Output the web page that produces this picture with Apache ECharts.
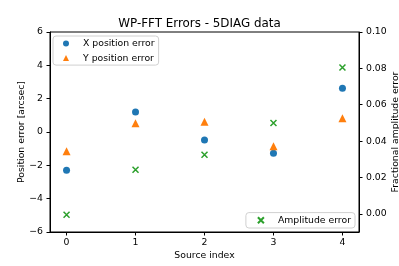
<!DOCTYPE html>
<html><head><meta charset="utf-8">
<script src="https://cdn.jsdelivr.net/npm/echarts@6/dist/echarts.min.js"></script>
<style>html,body{margin:0;padding:0;background:#fff}#c{width:399px;height:266px}</style>
</head><body><div id="c"></div>
<script>
const sourceIndex = [0, 1, 2, 3, 4];
const xPosError = [-2.3, 1.2, -0.48, -1.28, 2.62];
const yPosError = [-1.16, 0.52, 0.62, -0.86, 0.82];
const ampError = [-0.0005, 0.0242, 0.0325, 0.050, 0.0805];
const leftTicks = [-6, -4, -2, 0, 2, 4, 6];
const rightTicks = [0, 0.02, 0.04, 0.06, 0.08, 0.10];
const xTicks = [0, 1, 2, 3, 4];

const font = 'DejaVu Sans';
const fs = 9.3;
const chart = echarts.init(document.getElementById('c'));
const pair = (arr) => sourceIndex.map((s, i) => [s, arr[i]]);
const lineStyle = {show: true, onZero: false, lineStyle: {color: '#000', width: 1}};
const nameStyle = {fontFamily: font, fontSize: fs, color: '#000'};
const legendText = {fontFamily: font, fontSize: fs, color: '#000', lineHeight: 11, padding: [0, 0, 0, 9]};
chart.setOption({
  animation: false,
  title: {text: 'WP-FFT Errors - 5DIAG data', left: 'center', top: 13,
    textStyle: {fontFamily: font, fontSize: 11.9, fontWeight: 'normal', color: '#000'}},
  grid: {left: 50, right: 40, top: 32, bottom: 34, containLabel: false, outerBoundsMode: 'none',
    show: true, borderColor: '#000', borderWidth: 1, backgroundColor: 'transparent'},
  xAxis: {
    type: 'value', min: -0.24, max: 4.24,
    name: 'Source index', nameLocation: 'middle', nameGap: 19, nameTextStyle: nameStyle,
    nameMoveOverlap: false,
    axisLine: lineStyle, splitLine: {show: false},
    axisTick: {show: true, length: 3.5, lineStyle: {color: '#000'}, customValues: xTicks},
    axisLabel: {color: '#000', fontFamily: font, fontSize: fs, margin: 6, customValues: xTicks}
  },
  yAxis: [
    {
      type: 'value', min: -6, max: 6, interval: 2, position: 'left',
      name: 'Position error [arcsec]', nameLocation: 'middle', nameGap: 24, nameRotate: 90,
      nameTextStyle: nameStyle, nameMoveOverlap: false,
      axisLine: lineStyle, splitLine: {show: false},
      axisTick: {show: true, length: 3.5, lineStyle: {color: '#000'}, customValues: leftTicks},
      axisLabel: {color: '#000', fontFamily: font, fontSize: fs, margin: 7, customValues: leftTicks,
        formatter: v => (v < 0 ? '\u2212' + Math.abs(v) : String(v))}
    },
    {
      type: 'value', min: -0.01, max: 0.10, position: 'right',
      name: 'Fractional amplitude error', nameLocation: 'middle', nameGap: 32, nameRotate: 90,
      nameTextStyle: nameStyle, nameMoveOverlap: false,
      axisLine: lineStyle, splitLine: {show: false},
      axisTick: {show: true, length: 3.5, lineStyle: {color: '#000'}, customValues: rightTicks},
      axisLabel: {color: '#000', fontFamily: font, fontSize: fs, margin: 7, customValues: rightTicks,
        formatter: v => v.toFixed(2)}
    }
  ],
  legend: [
    {data: [{name: 'X position error', icon: 'circle'}, {name: 'Y position error', icon: 'triangle'}],
      orient: 'vertical', left: 53, top: 36, itemWidth: 6, itemHeight: 6, itemGap: 3.6,
      padding: [2, 4, 1.5, 10], borderColor: '#d0d0d0', borderWidth: 1, borderRadius: 3,
      backgroundColor: 'rgba(255,255,255,0.8)', textStyle: legendText},
    {data: [{name: 'Amplitude error'}],
      orient: 'vertical', right: 44, bottom: 38, itemWidth: 6, itemHeight: 6,
      padding: [2.2, 4, 2.2, 9.5], borderColor: '#d0d0d0', borderWidth: 1, borderRadius: 3,
      backgroundColor: 'rgba(255,255,255,0.8)', textStyle: legendText}
  ],
  series: [
    {name: 'X position error', type: 'scatter', yAxisIndex: 0, symbol: 'circle', symbolSize: 7,
      itemStyle: {color: '#1f77b4', opacity: 1}, data: pair(xPosError)},
    {name: 'Y position error', type: 'scatter', yAxisIndex: 0, symbol: 'triangle', symbolSize: 8,
      itemStyle: {color: '#ff7f0e', opacity: 1}, data: pair(yPosError)},
    {name: 'Amplitude error', type: 'scatter', yAxisIndex: 1,
      symbol: 'path://M0,0 L2,2 M2,0 L0,2', symbolSize: 6,
      itemStyle: {color: 'none', borderColor: '#2ca02c', borderWidth: 1.5, opacity: 1},
      data: pair(ampError)}
  ]
});
</script></body></html>
